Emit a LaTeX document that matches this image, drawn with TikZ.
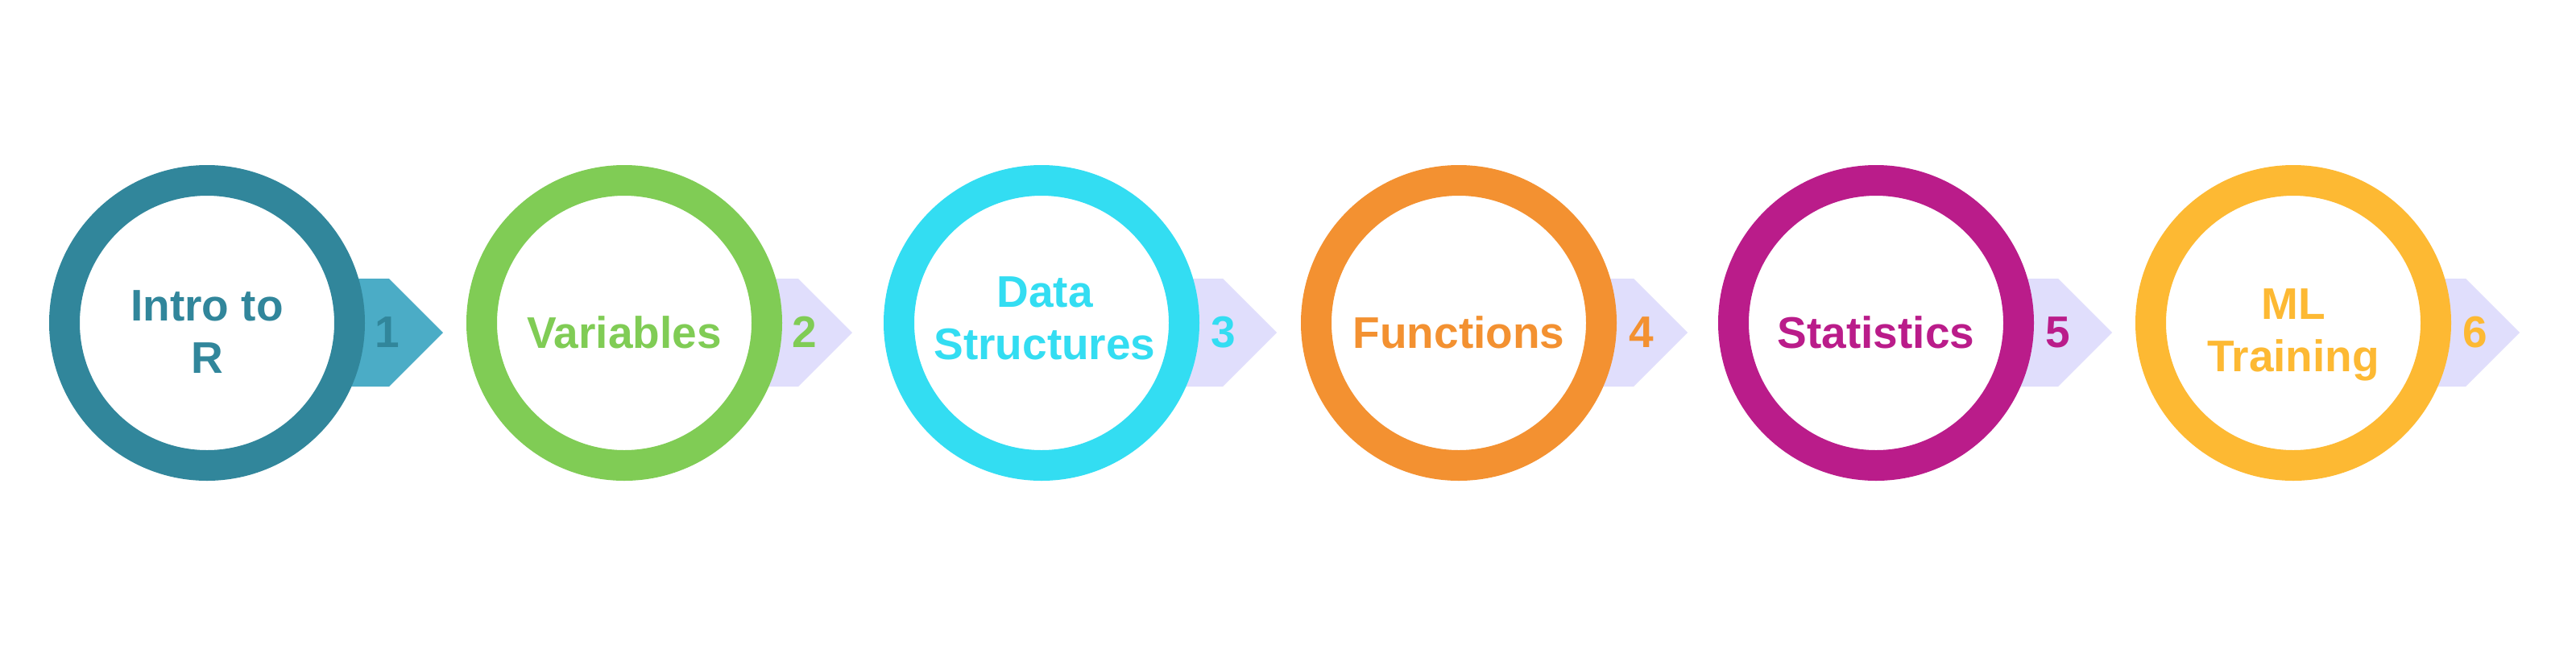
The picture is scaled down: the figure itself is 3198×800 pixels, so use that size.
\documentclass[tikz,border=0pt]{standalone}
\usepackage{fontspec}
\setmainfont{Liberation Sans}
\definecolor{cOne}{HTML}{31869B}
\definecolor{tOne}{HTML}{4BACC6}
\definecolor{cTwo}{HTML}{80CC55}
\definecolor{cThree}{HTML}{33DDF2}
\definecolor{cFour}{HTML}{F39131}
\definecolor{cFive}{HTML}{BA1C8A}
\definecolor{cSix}{HTML}{FDB933}
\definecolor{tLav}{HTML}{E0DEFC}
\begin{document}
\begin{tikzpicture}[x=0.5pt,y=-0.5pt,
  ring/.style={circle, draw=#1, line width=19pt, fill=white, minimum size=177pt, inner sep=0pt, outer sep=0pt},
  lbl/.style={text=#1, font=\fontsize{27.5}{32.5}\selectfont\bfseries, align=center, anchor=base, inner sep=0pt},
  num/.style={text=#1, font=\fontsize{27.5}{32.5}\selectfont\bfseries, anchor=base, inner sep=0pt},
  tabshape/.style={fill=#1}]
\fill[white] (0,0) rectangle (3198,800);
\useasboundingbox (0,0) rectangle (3198,800);
% tabs
\fill[tabshape=tOne] (357,346) -- (483,346) -- (550,413) -- (483,480) -- (357,480) -- cycle;
\fill[tabshape=tLav] (875,346) -- (991,346) -- (1058,413) -- (991,480) -- (875,480) -- cycle;
\fill[tabshape=tLav] (1393,346) -- (1518,346) -- (1585,413) -- (1518,480) -- (1393,480) -- cycle;
\fill[tabshape=tLav] (1911,346) -- (2028,346) -- (2095,413) -- (2028,480) -- (1911,480) -- cycle;
\fill[tabshape=tLav] (2429,346) -- (2555,346) -- (2622,413) -- (2555,480) -- (2429,480) -- cycle;
\fill[tabshape=tLav] (2947,346) -- (3061,346) -- (3128,413) -- (3061,480) -- (2947,480) -- cycle;
% rings
\node[ring=cOne] (c1) at (257,401) {};
\node[ring=cTwo] (c2) at (775,401) {};
\node[ring=cThree] (c3) at (1293,401) {};
\node[ring=cFour] (c4) at (1811,401) {};
\node[ring=cFive] (c5) at (2329,401) {};
\node[ring=cSix] (c6) at (2847,401) {};
% labels (base = baseline of last line)
\node[lbl=cOne] (l1) at (257,463) {Intro to\\R};
\node[lbl=cTwo] (l2) at (775,432) {Variables};
\node[lbl=cThree] (l3) at (1297,446) {Data\\Structures};
\node[lbl=cFour] (l4) at (1811,432) {Functions};
\node[lbl=cFive] (l5) at (2329,432) {Statistics};
\node[lbl=cSix] (l6) at (2847,461) {ML\\Training};
% numbers
\node[num=cOne] (n1) at (481,431) {1};
\node[num=cTwo] (n2) at (999,431) {2};
\node[num=cThree] (n3) at (1519,431) {3};
\node[num=cFour] (n4) at (2038,431) {4};
\node[num=cFive] (n5) at (2555,431) {5};
\node[num=cSix] (n6) at (3073,431) {6};
\end{tikzpicture}
\end{document}
